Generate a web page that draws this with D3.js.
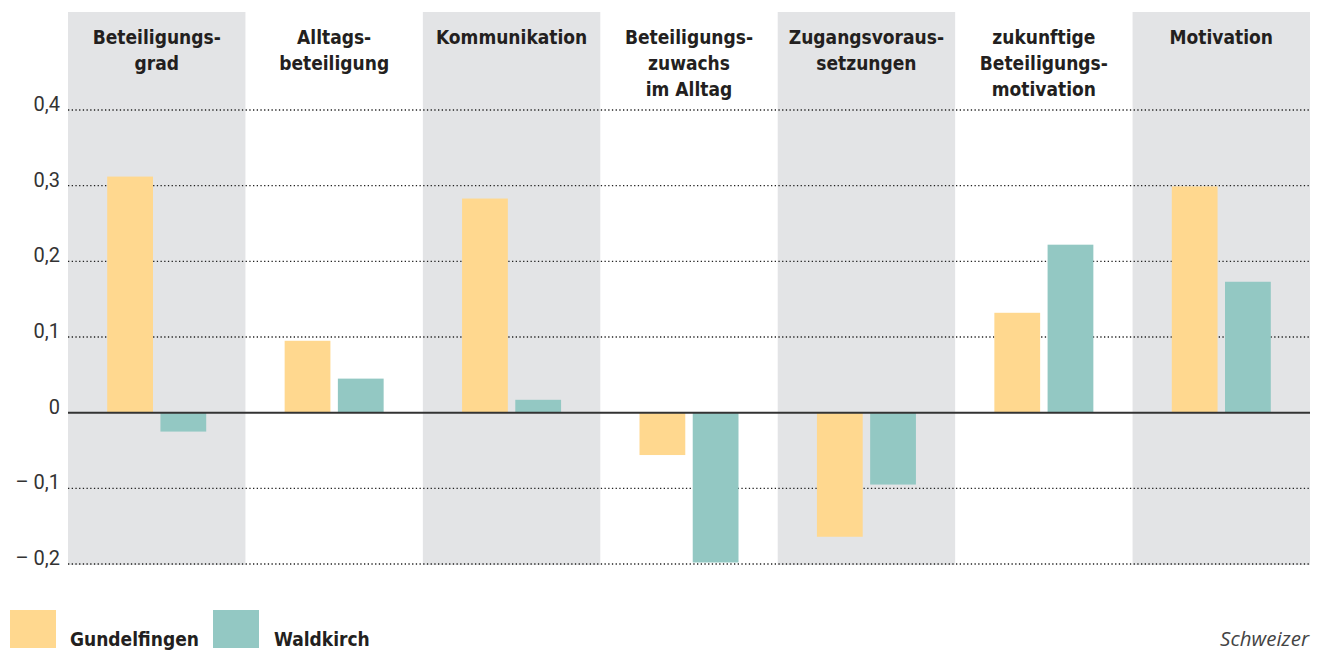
<!DOCTYPE html>
<html><head><meta charset="utf-8">
<script src="https://cdn.jsdelivr.net/npm/d3@7"></script>
<style>body{margin:0;background:#fff;}svg{display:block;}</style>
</head><body>
<svg id="c" width="1322" height="652"></svg>
<script>
const categories = [
  ["Beteiligungs-","grad"],
  ["Alltags-","beteiligung"],
  ["Kommunikation"],
  ["Beteiligungs-","zuwachs","im Alltag"],
  ["Zugangsvoraus-","setzungen"],
  ["zukunftige","Beteiligungs-","motivation"],
  ["Motivation"]
];
const seriesNames = ["Gundelfingen","Waldkirch"];
const gundelfingen = [0.312, 0.095, 0.283, -0.056, -0.164, 0.132, 0.299];
const waldkirch = [-0.025, 0.045, 0.017, -0.198, -0.095, 0.222, 0.173];
const tickValues = [0.4, 0.3, 0.2, 0.1, 0, -0.1, -0.2];
const tickLabels = ["0,4","0,3","0,2","0,1","0","\u2013 0,1","\u2013 0,2"];
const colors = ["#FFD88F","#93C8C3"];
const source = "Schweizer";

const svg = d3.select("#c");
const font = "'DejaVu Sans Condensed', 'Roboto', sans-serif";
const left = 68, right = 1310;
const x = d3.scaleBand().domain(d3.range(categories.length)).range([left, right]).padding(0);
const y = d3.scaleLinear().domain([-0.2, 0.4]).range([564, 110]);
const x1 = d3.scaleBand().domain([0,1]).range([0, 99]).paddingInner(0.14);

// bands
svg.selectAll("rect.band").data(d3.range(categories.length).filter(i => i % 2 === 0))
  .join("rect").attr("x", i => x(i)).attr("width", x.bandwidth())
  .attr("y", 12).attr("height", y(-0.2) + 1 - 12).attr("fill", "#E3E4E6");

// grid
const grid = tickValues.filter(v => v !== 0);
svg.selectAll("line.grid").data(grid).join("line")
  .attr("x1", left).attr("x2", right).attr("y1", d => y(d)).attr("y2", d => y(d))
  .attr("stroke", "#222").attr("stroke-width", 1.3).attr("stroke-dasharray", "1.3,2.4");

// tick labels
svg.selectAll("text.tick").data(tickValues).join("text")
  .attr("x", 60).attr("y", d => y(d) + 1).attr("text-anchor", "end")
  .attr("font-family", "'Roboto', sans-serif").attr("font-weight", 400).attr("font-size", 20).attr("fill", "#333")
  .text((d, i) => tickLabels[i]);

// bars
const groups = svg.selectAll("g.cat").data(categories).join("g")
  .attr("transform", (d, i) => `translate(${x(i) + (x.bandwidth() - 99) / 2},0)`);
groups.each(function(d, i) {
  const vals = [gundelfingen[i], waldkirch[i]];
  d3.select(this).selectAll("rect").data(vals).join("rect")
    .attr("x", (v, j) => x1(j)).attr("width", x1.bandwidth())
    .attr("y", v => y(Math.max(0, v))).attr("height", v => Math.abs(y(v) - y(0)))
    .attr("fill", (v, j) => colors[j]);
});

// zero line
svg.append("line").attr("x1", left).attr("x2", right).attr("y1", y(0)).attr("y2", y(0))
  .attr("stroke", "#333").attr("stroke-width", 2);

// category titles
categories.forEach((lines, i) => {
  const t = svg.append("text").attr("x", x(i) + x.bandwidth() / 2).attr("y", 44)
    .attr("text-anchor", "middle").attr("font-family", font).attr("font-weight", "bold")
    .attr("font-size", 19).attr("fill", "#231F20");
  lines.forEach((l, k) => t.append("tspan").attr("x", x(i) + x.bandwidth() / 2).attr("dy", k ? 26 : 0).text(l));
});

// legend
const legX = [10, 213], legTX = [70, 274];
seriesNames.forEach((s, j) => {
  svg.append("rect").attr("x", legX[j]).attr("y", 610).attr("width", 46).attr("height", 38).attr("fill", colors[j]);
  svg.append("text").attr("x", legTX[j]).attr("y", 646).attr("font-family", font)
    .attr("font-weight", "bold").attr("font-size", 19).attr("fill", "#231F20").text(s);
});
svg.append("text").attr("x", 1309).attr("y", 646).attr("text-anchor", "end")
  .attr("font-family", "'Open Sans', sans-serif").attr("font-style", "italic").attr("font-size", 20.5)
  .attr("fill", "#444").text(source);
</script>
</body></html>
